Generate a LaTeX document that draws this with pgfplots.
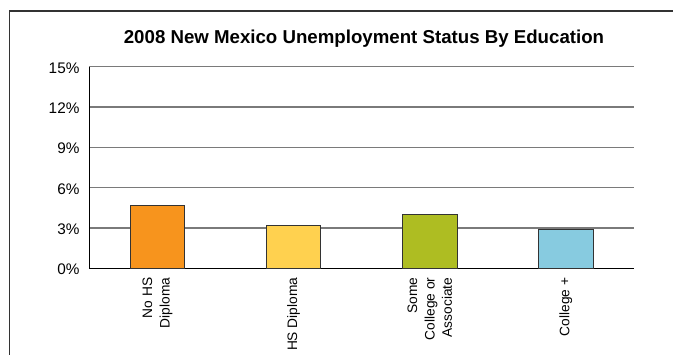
\documentclass[border=0pt]{standalone}
\usepackage{pgfplots}
\pgfplotsset{compat=1.18}
\usepackage{fontspec}
\setmainfont{Liberation Sans}
\definecolor{cOrange}{HTML}{F7941D}
\definecolor{cYellow}{HTML}{FFD14F}
\definecolor{cGreen}{HTML}{AEBD22}
\definecolor{cBlue}{HTML}{87CBE0}
\definecolor{gridc}{HTML}{7A7A7A}
\definecolor{edgec}{HTML}{333333}
\begin{document}
\begin{tikzpicture}
\path[use as bounding box] (0,0) rectangle (504.75pt,265.5pt);
\draw[edgec, line width=0.8pt] (7.1pt,-5pt) |- (520pt,257.25pt);
\node[font=\bfseries\fontsize{14}{16}\selectfont] at (273pt,236.5pt) {2008 New Mexico Unemployment Status By Education};
\begin{axis}[
  at={(67.1pt,64.3pt)}, anchor=south west,
  scale only axis, width=408.4pt, height=151.2pt,
  xmin=-0.5, xmax=3.5, ymin=0, ymax=15,
  axis x line*=bottom, axis y line*=left,
  axis line style={-, black, line width=0.9pt},
  ymajorgrids, grid style={gridc, line width=0.9pt},
  major tick length=0pt,
  ytick={0,3,6,9,12,15},
  yticklabels={0\%,3\%,6\%,9\%,12\%,15\%},
  yticklabel style={font=\fontsize{11.5}{13}\selectfont, xshift=-4pt, yshift=-1pt},
  xtick={0,1,2,3},
  xticklabels={{No HS\\Diploma},{HS Diploma},{Some\\College or\\Associate},{College +}},
  xticklabel style={yshift=-3.5pt, rotate=90, anchor=east, align=right, font=\fontsize{10.3}{13}\selectfont},
  ybar, bar width=0.4, bar shift=0pt,
]
\addplot[draw=edgec, line width=0.8pt, fill=cOrange] coordinates {(0,4.7)};
\addplot[draw=edgec, line width=0.8pt, fill=cYellow] coordinates {(1,3.2)};
\addplot[draw=edgec, line width=0.8pt, fill=cGreen] coordinates {(2,4.0)};
\addplot[draw=edgec, line width=0.8pt, fill=cBlue] coordinates {(3,2.9)};
\end{axis}
\end{tikzpicture}
\end{document}
